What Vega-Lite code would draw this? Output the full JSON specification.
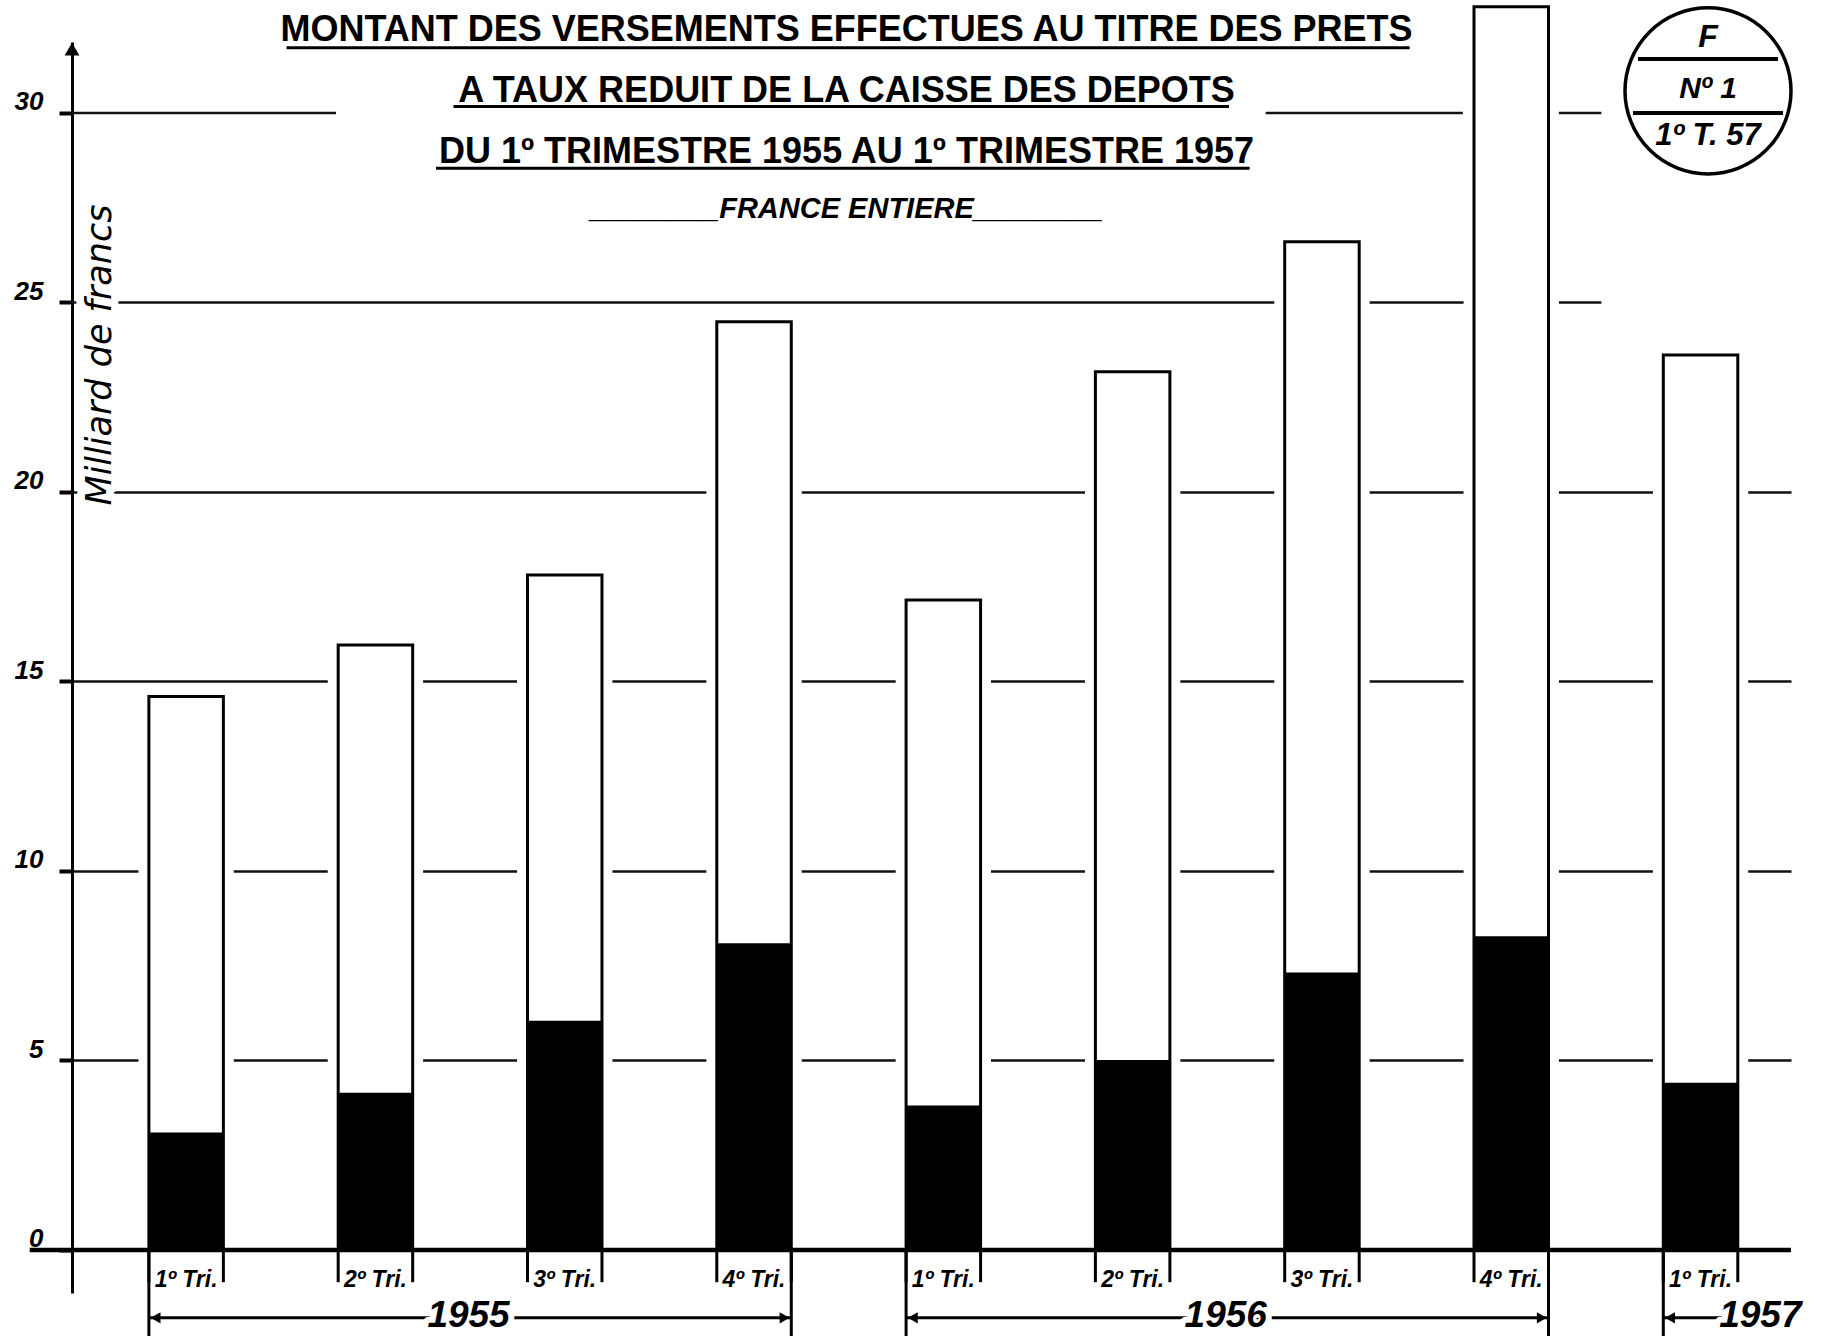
{
  "$schema": "https://vega.github.io/schema/vega-lite/v6.json",
  "width": 1719,
  "height": 1251,
  "padding": {"left": 72, "top": 42, "right": 33, "bottom": 50},
  "autosize": {"type": "none"},
  "background": "white",
  "config": {
    "view": {"stroke": null},
    "font": "Liberation Sans",
    "axisY": {
      "labelFont": "Liberation Sans", "labelFontStyle": "italic", "labelFontWeight": "bold",
      "labelFontSize": 26, "labelColor": "black", "labelBaseline": "alphabetic", "labelPadding": 16, "labelOffset": -3,
      "tickSize": 13, "tickWidth": 4, "tickColor": "black",
      "domainColor": "black", "domainWidth": 3,
      "grid": true, "gridColor": "#111111", "gridWidth": 2.5
    }
  },
  "title": {
    "text": ["MONTANT DES VERSEMENTS EFFECTUES AU TITRE DES PRETS", "A TAUX REDUIT DE LA CAISSE DES DEPOTS", "DU 1º TRIMESTRE 1955 AU 1º TRIMESTRE 1957"],
    "subtitle": "________FRANCE ENTIERE________",
    "anchor": "middle",
    "frame": "group",
    "orient": "top",
    "offset": -224.5,
    "dx": -85,
    "font": "Liberation Sans",
    "fontSize": 36,
    "fontWeight": "bold",
    "color": "black",
    "lineHeight": 61,
    "subtitleFont": "Liberation Sans",
    "subtitleFontSize": 29,
    "subtitleFontStyle": "italic",
    "subtitleFontWeight": "bold",
    "subtitleColor": "black",
    "subtitlePadding": 24
  },
  "datasets": {
    "quarters": [
      {"q": "1955 T1", "tri": "1º Tri.", "black": 3.10, "total": 14.60},
      {"q": "1955 T2", "tri": "2º Tri.", "black": 4.15, "total": 15.96},
      {"q": "1955 T3", "tri": "3º Tri.", "black": 6.05, "total": 17.81},
      {"q": "1955 T4", "tri": "4º Tri.", "black": 8.09, "total": 24.49},
      {"q": "1956 T1", "tri": "1º Tri.", "black": 3.81, "total": 17.15},
      {"q": "1956 T2", "tri": "2º Tri.", "black": 5.01, "total": 23.17},
      {"q": "1956 T3", "tri": "3º Tri.", "black": 7.32, "total": 26.60},
      {"q": "1956 T4", "tri": "4º Tri.", "black": 8.28, "total": 32.80},
      {"q": "1957 T1", "tri": "1º Tri.", "black": 4.41, "total": 23.61}
    ],
    "years": [
      {"year": "1955", "first": "1955 T1", "second": "1955 T2", "last": "1955 T4"},
      {"year": "1956", "first": "1956 T1", "second": "1956 T2", "last": "1956 T4"},
      {"year": "1957", "first": "1957 T1", "second": "1957 T1", "last": "1957 T1"}
    ],
    "one": [{}]
  },
  "data": {"name": "quarters"},
  "layer": [
    {
      "data": {"name": "one"},
      "mark": {"type": "rule", "color": "#111111", "strokeWidth": 2.5},
      "encoding": {
        "x": {"datum": "1955 T1", "type": "nominal", "axis": null, "bandPosition": -1.032},
        "x2": {"datum": "1955 T2", "bandPosition": -0.03},
        "y": {"datum": 30, "type": "quantitative"}
      }
    },
    {
      "data": {"name": "one"},
      "mark": {"type": "rule", "color": "#111111", "strokeWidth": 2.5},
      "encoding": {
        "x": {"datum": "1956 T3", "type": "nominal", "axis": null, "bandPosition": -0.255},
        "x2": {"datum": "1956 T4", "bandPosition": -0.15},
        "y": {"datum": 30, "type": "quantitative"}
      }
    },
    {
      "data": {"name": "one"},
      "mark": {"type": "rule", "color": "#111111", "strokeWidth": 2.5},
      "encoding": {
        "x": {"datum": "1956 T4", "type": "nominal", "axis": null, "bandPosition": 1.09},
        "x2": {"datum": "1956 T4", "bandPosition": 1.71},
        "y": {"datum": 30, "type": "quantitative"}
      }
    },
    {
      "data": {"name": "one"},
      "mark": {"type": "rule", "color": "#111111", "strokeWidth": 2.5},
      "encoding": {
        "x": {"datum": "1955 T1", "type": "nominal", "axis": null, "bandPosition": -1.032},
        "x2": {"datum": "1956 T4", "bandPosition": 1.71},
        "y": {"datum": 25, "type": "quantitative"}
      }
    },
    {
      "mark": {"type": "bar", "color": "white", "width": {"band": 1.28}},
      "encoding": {
        "x": {"field": "q", "type": "nominal", "axis": null,
              "scale": {"domain": ["1955 T1","1955 T2","1955 T3","1955 T4","1956 T1","1956 T2","1956 T3","1956 T4","1957 T1"],
                        "paddingInner": 0.6065, "paddingOuter": 0.3436, "align": 0.591}},
        "y": {"field": "total", "type": "quantitative", "title": null,
              "scale": {"domain": [-1.135, 31.87], "nice": false, "zero": false},
              "axis": {"values": [0, 5, 10, 15, 20, 25, 30], "title": null,
                       "gridOpacity": {"condition": {"test": "datum.value === 30 || datum.value === 25 || datum.value === 0", "value": 0}, "value": 1}}},
        "y2": {"datum": 0}
      }
    },
    {
      "data": {"name": "one"},
      "mark": {"type": "rule", "color": "black", "strokeWidth": 3},
      "encoding": {
        "x": {"datum": "1955 T1", "type": "nominal", "axis": null, "bandPosition": 1.848},
        "x2": {"datum": "1956 T3", "bandPosition": 1.678},
        "y": {"datum": 31.72, "type": "quantitative"}
      }
    },
    {
      "data": {"name": "one"},
      "mark": {"type": "rule", "color": "black", "strokeWidth": 3},
      "encoding": {
        "x": {"datum": "1955 T2", "type": "nominal", "axis": null, "bandPosition": 1.548},
        "x2": {"datum": "1956 T2", "bandPosition": 1.793},
        "y": {"datum": 30.17, "type": "quantitative"}
      }
    },
    {
      "data": {"name": "one"},
      "mark": {"type": "rule", "color": "black", "strokeWidth": 3},
      "encoding": {
        "x": {"datum": "1955 T2", "type": "nominal", "axis": null, "bandPosition": 1.313},
        "x2": {"datum": "1956 T3", "bandPosition": -0.47},
        "y": {"datum": 28.54, "type": "quantitative"}
      }
    },
    {
      "mark": {"type": "bar", "fill": "white", "stroke": "black", "strokeWidth": 3},
      "encoding": {
        "x": {"field": "q", "type": "nominal", "axis": null},
        "y": {"field": "total", "type": "quantitative"},
        "y2": {"datum": 0}
      }
    },
    {
      "mark": {"type": "bar", "color": "black"},
      "encoding": {
        "x": {"field": "q", "type": "nominal", "axis": null},
        "y": {"field": "black", "type": "quantitative"},
        "y2": {"datum": 0}
      }
    },
    {
      "data": {"name": "one"},
      "mark": {"type": "rule", "color": "black", "strokeWidth": 4.5},
      "encoding": {
        "x": {"datum": "1955 T1", "type": "nominal", "axis": null, "bandPosition": -1.6},
        "x2": {"datum": "1957 T1", "bandPosition": 1.714},
        "y": {"datum": 0, "type": "quantitative"}
      }
    },
    {
      "mark": {"type": "rule", "color": "black", "strokeWidth": 3},
      "encoding": {
        "x": {"field": "q", "type": "nominal", "axis": null, "bandPosition": 0},
        "y": {"datum": 0, "type": "quantitative"},
        "y2": {"datum": -0.85}
      }
    },
    {
      "mark": {"type": "rule", "color": "black", "strokeWidth": 3},
      "encoding": {
        "x": {"field": "q", "type": "nominal", "axis": null, "bandPosition": 1},
        "y": {"datum": 0, "type": "quantitative"},
        "y2": {"datum": -0.85}
      }
    },
    {
      "mark": {"type": "text", "color": "black", "font": "Liberation Sans", "fontStyle": "italic", "fontWeight": "bold", "fontSize": 23, "baseline": "middle", "align": "center"},
      "encoding": {
        "x": {"field": "q", "type": "nominal", "axis": null},
        "y": {"datum": -0.79, "type": "quantitative"},
        "text": {"field": "tri"}
      }
    },
    {
      "data": {"name": "years"},
      "mark": {"type": "rule", "color": "black", "strokeWidth": 3},
      "encoding": {
        "x": {"field": "first", "type": "nominal", "axis": null, "bandPosition": 0},
        "y": {"datum": 0, "type": "quantitative"},
        "y2": {"datum": -2.27}
      }
    },
    {
      "data": {"name": "years"},
      "transform": [{"filter": "datum.year != '1957'"}],
      "mark": {"type": "rule", "color": "black", "strokeWidth": 3},
      "encoding": {
        "x": {"field": "last", "type": "nominal", "axis": null, "bandPosition": 1},
        "y": {"datum": 0, "type": "quantitative"},
        "y2": {"datum": -2.27}
      }
    },
    {
      "data": {"name": "years"},
      "mark": {"type": "rule", "color": "black", "strokeWidth": 3},
      "encoding": {
        "x": {"field": "first", "type": "nominal", "axis": null, "bandPosition": 0},
        "x2": {"field": "last", "bandPosition": 1},
        "y": {"datum": -1.79, "type": "quantitative"}
      }
    },
    {
      "data": {"name": "years"},
      "mark": {"type": "point", "shape": "triangle-left", "filled": true, "color": "black", "size": 130, "opacity": 1},
      "encoding": {
        "x": {"field": "first", "type": "nominal", "axis": null, "bandPosition": 0.09},
        "y": {"datum": -1.79, "type": "quantitative"}
      }
    },
    {
      "data": {"name": "years"},
      "transform": [{"filter": "datum.year != '1957'"}],
      "mark": {"type": "point", "shape": "triangle-right", "filled": true, "color": "black", "size": 130, "opacity": 1},
      "encoding": {
        "x": {"field": "last", "type": "nominal", "axis": null, "bandPosition": 0.91},
        "y": {"datum": -1.79, "type": "quantitative"}
      }
    },
    {
      "data": {"name": "years"},
      "transform": [{"filter": "datum.year != '1957'"}],
      "mark": {"type": "text", "fill": "white", "stroke": "white", "strokeWidth": 12, "strokeJoin": "round", "font": "Liberation Sans", "fontStyle": "italic", "fontWeight": "bold", "fontSize": 37, "baseline": "middle", "align": "center"},
      "encoding": {
        "x": {"field": "second", "type": "nominal", "axis": null, "bandPosition": 1.75},
        "y": {"datum": -1.74, "type": "quantitative"},
        "text": {"field": "year"}
      }
    },
    {
      "data": {"name": "years"},
      "transform": [{"filter": "datum.year != '1957'"}],
      "mark": {"type": "text", "color": "black", "font": "Liberation Sans", "fontStyle": "italic", "fontWeight": "bold", "fontSize": 37, "baseline": "middle", "align": "center"},
      "encoding": {
        "x": {"field": "second", "type": "nominal", "axis": null, "bandPosition": 1.75},
        "y": {"datum": -1.74, "type": "quantitative"},
        "text": {"field": "year"}
      }
    },
    {
      "data": {"name": "years"},
      "transform": [{"filter": "datum.year == '1957'"}],
      "mark": {"type": "text", "fill": "white", "stroke": "white", "strokeWidth": 12, "strokeJoin": "round", "font": "Liberation Sans", "fontStyle": "italic", "fontWeight": "bold", "fontSize": 37, "baseline": "middle", "align": "left"},
      "encoding": {
        "x": {"field": "first", "type": "nominal", "axis": null, "bandPosition": 0.75},
        "y": {"datum": -1.74, "type": "quantitative"},
        "text": {"field": "year"}
      }
    },
    {
      "data": {"name": "years"},
      "transform": [{"filter": "datum.year == '1957'"}],
      "mark": {"type": "text", "color": "black", "font": "Liberation Sans", "fontStyle": "italic", "fontWeight": "bold", "fontSize": 37, "baseline": "middle", "align": "left"},
      "encoding": {
        "x": {"field": "first", "type": "nominal", "axis": null, "bandPosition": 0.75},
        "y": {"datum": -1.74, "type": "quantitative"},
        "text": {"field": "year"}
      }
    },
    {
      "data": {"name": "one"},
      "mark": {"type": "text", "text": "Milliard de francs", "angle": 270, "fill": "white", "stroke": "white", "strokeWidth": 16, "strokeJoin": "round", "font": "DejaVu Sans", "fontStyle": "italic", "fontSize": 35, "baseline": "middle", "align": "center"},
      "encoding": {
        "x": {"datum": "1955 T1", "type": "nominal", "axis": null, "bandPosition": -0.656},
        "y": {"datum": 23.61, "type": "quantitative"}
      }
    },
    {
      "data": {"name": "one"},
      "mark": {"type": "text", "text": "Milliard de francs", "angle": 270, "color": "black", "font": "DejaVu Sans", "fontStyle": "italic", "fontSize": 35, "baseline": "middle", "align": "center"},
      "encoding": {
        "x": {"datum": "1955 T1", "type": "nominal", "axis": null, "bandPosition": -0.656},
        "y": {"datum": 23.61, "type": "quantitative"}
      }
    },
    {
      "data": {"name": "one"},
      "mark": {"type": "point", "shape": "triangle-up", "filled": true, "color": "black", "size": 220, "opacity": 1},
      "encoding": {
        "x": {"datum": "1955 T1", "type": "nominal", "axis": null, "bandPosition": -1.032},
        "y": {"datum": 31.68, "type": "quantitative"}
      }
    },
    {
      "data": {"name": "one"},
      "mark": {"type": "point", "shape": "circle", "filled": true, "color": "white", "stroke": "black", "strokeWidth": 3.5, "size": 27556, "opacity": 1},
      "encoding": {
        "x": {"datum": "1957 T1", "type": "nominal", "axis": null, "bandPosition": 0.6},
        "y": {"datum": 30.58, "type": "quantitative"}
      }
    },
    {
      "data": {"name": "one"},
      "mark": {"type": "point", "shape": "M-1,0L1,0", "filled": false, "color": "black", "strokeWidth": 4, "size": 19600, "opacity": 1},
      "encoding": {
        "x": {"datum": "1957 T1", "type": "nominal", "axis": null, "bandPosition": 0.6},
        "y": {"datum": 31.42, "type": "quantitative"}
      }
    },
    {
      "data": {"name": "one"},
      "mark": {"type": "point", "shape": "M-1,0L1,0", "filled": false, "color": "black", "strokeWidth": 4, "size": 22500, "opacity": 1},
      "encoding": {
        "x": {"datum": "1957 T1", "type": "nominal", "axis": null, "bandPosition": 0.6},
        "y": {"datum": 30.0, "type": "quantitative"}
      }
    },
    {
      "data": {"name": "one"},
      "mark": {"type": "text", "text": "F", "color": "black", "font": "Liberation Sans", "fontStyle": "italic", "fontWeight": "bold", "fontSize": 32, "baseline": "middle", "align": "center"},
      "encoding": {
        "x": {"datum": "1957 T1", "type": "nominal", "axis": null, "bandPosition": 0.6},
        "y": {"datum": 32.0, "type": "quantitative"}
      }
    },
    {
      "data": {"name": "one"},
      "mark": {"type": "text", "text": "Nº 1", "color": "black", "font": "Liberation Sans", "fontStyle": "italic", "fontWeight": "bold", "fontSize": 30, "baseline": "middle", "align": "center"},
      "encoding": {
        "x": {"datum": "1957 T1", "type": "nominal", "axis": null, "bandPosition": 0.6},
        "y": {"datum": 30.62, "type": "quantitative"}
      }
    },
    {
      "data": {"name": "one"},
      "mark": {"type": "text", "text": "1º T. 57", "color": "black", "font": "Liberation Sans", "fontStyle": "italic", "fontWeight": "bold", "fontSize": 31, "baseline": "middle", "align": "center"},
      "encoding": {
        "x": {"datum": "1957 T1", "type": "nominal", "axis": null, "bandPosition": 0.6},
        "y": {"datum": 29.39, "type": "quantitative"}
      }
    }
  ]
}
